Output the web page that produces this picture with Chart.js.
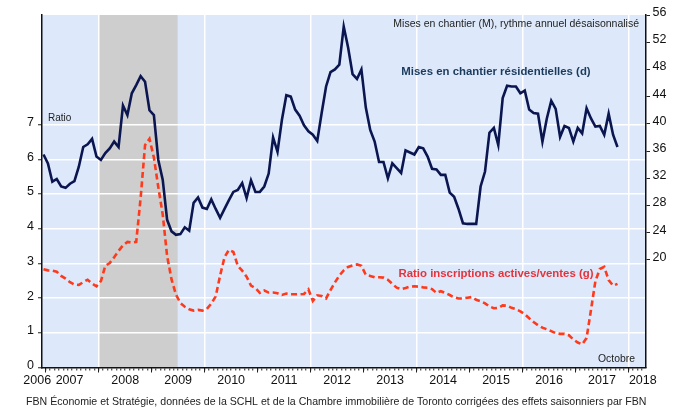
<!DOCTYPE html>
<html>
<head>
<meta charset="utf-8">
<script src="https://cdn.jsdelivr.net/npm/chart.js@4.4.1/dist/chart.umd.min.js"></script>
<style>
  body { margin: 0; background: #fff; }
  canvas { display: block; }
</style>
</head>
<body>
<canvas id="chart" width="678" height="408"></canvas>
<script>
// Monthly series, Dec 2006 to Oct 2017
const firstMonth = 2006 + 11 / 12; // December 2006

// Mises en chantier (right axis)
const starts = [
  35.5, 34.2, 31.5, 31.9, 30.8, 30.6, 31.2, 31.6, 33.7, 36.6, 37.0, 37.8,
  35.2, 34.7, 35.7, 36.4, 37.4, 36.6, 42.7, 41.3, 44.5, 45.7, 47.0, 46.2,
  42.0, 41.3, 34.7, 31.8, 25.9, 24.2, 23.7, 23.8, 24.8, 24.3, 28.4, 29.2,
  27.7, 27.5, 28.9, 27.5, 26.2, 27.5, 28.8, 30.0, 30.3, 31.3, 29.1, 31.7,
  30.0, 30.0, 30.8, 32.7, 38.0, 35.9, 40.6, 44.2, 44.0, 42.1, 41.2, 39.8,
  38.9, 38.4, 37.5, 41.6, 45.5, 47.6, 48.0, 48.7, 54.3, 51.2, 47.3, 46.6,
  48.0, 42.4, 39.1, 37.4, 34.4, 34.4, 32.0, 34.2, 33.5, 32.8, 36.1, 35.8,
  35.5, 36.6, 36.4, 35.2, 33.4, 33.3, 32.5, 32.5, 29.9, 29.3, 27.5, 25.4,
  25.3, 25.3, 25.3, 30.8, 33.0, 38.7, 39.4, 36.9, 43.8, 45.6, 45.5, 45.5,
  44.5, 44.9, 42.1, 41.6, 41.5, 37.4, 40.8, 43.4, 42.2, 38.1, 39.7, 39.4,
  37.4, 39.4, 38.6, 42.3, 40.8, 39.6, 39.7, 38.4, 41.5, 38.4, 36.6
];

// Ratio inscriptions actives / ventes (left axis)
const ratio = [
  2.83, 2.80, 2.79, 2.76, 2.64, 2.56, 2.46, 2.39, 2.38, 2.46, 2.53, 2.42,
  2.34, 2.49, 2.93, 3.01, 3.18, 3.36, 3.52, 3.62, 3.60, 3.62, 4.89, 6.41,
  6.59, 6.05, 5.20, 4.41, 3.21, 2.54, 2.10, 1.86, 1.75, 1.68, 1.64, 1.66,
  1.64, 1.69, 1.84, 2.05, 2.65, 3.18, 3.39, 3.33, 2.93, 2.79, 2.62, 2.36,
  2.29, 2.15, 2.22, 2.16, 2.16, 2.14, 2.09, 2.13, 2.11, 2.11, 2.11, 2.12,
  2.25, 1.92, 2.08, 2.06, 1.99, 2.23, 2.45, 2.65, 2.80, 2.90, 2.94, 2.97,
  2.93, 2.67, 2.64, 2.60, 2.60, 2.59, 2.53, 2.41, 2.30, 2.26, 2.29, 2.33,
  2.34, 2.33, 2.31, 2.30, 2.26, 2.15, 2.20, 2.15, 2.09, 2.02, 1.99, 1.99,
  2.01, 2.03, 1.95, 1.91, 1.85, 1.76, 1.71, 1.72, 1.79, 1.78, 1.72, 1.68,
  1.62, 1.54, 1.42, 1.31, 1.22, 1.15, 1.10, 1.05, 0.99, 0.97, 0.97, 0.93,
  0.81, 0.72, 0.67, 0.85, 1.66, 2.49, 2.84, 2.90, 2.52, 2.36, 2.41
];

const years = ['2006', '2007', '2008', '2009', '2010', '2011', '2012',
               '2013', '2014', '2015', '2016', '2017', '2018'];
const leftTicks = [0, 1, 2, 3, 4, 5, 6, 7];
const rightTicks = [20, 24, 28, 32, 36, 40, 44, 48, 52, 56];

// recession (grey band)
const recessionStart = 2008.0;
const recessionEnd = 2009.49;

const FONT = '"Liberation Sans", Arial, sans-serif';
const X_MIN = 2006.93, X_MAX = 2018.33;

// points sit in the middle of their month
const toPoints = arr => arr.map((v, i) => ({ x: firstMonth + i / 12 + 1 / 24, y: v }));

const isYear = v => Math.abs(v - Math.round(v)) < 1e-6;

// where each year label goes (edges pulled in)
function yearLabelPos(i) {
  if (i === 0) return 2006.84;
  if (i === 1) return 2007.45;
  if (i === years.length - 1) return 2018.27;
  return 2006 + i + 0.5;
}

const background = {
  id: 'background',
  beforeDraw(chart) {
    const { ctx, chartArea: a, scales } = chart;
    ctx.save();
    ctx.fillStyle = '#dde9fb';
    ctx.fillRect(a.left, a.top, a.right - a.left, a.bottom - a.top);
    const x1 = scales.x.getPixelForValue(recessionStart);
    const x2 = scales.x.getPixelForValue(recessionEnd);
    ctx.fillStyle = '#cecece';
    ctx.fillRect(x1, a.top, x2 - x1, a.bottom - a.top);
    ctx.restore();
  }
};

const texts = {
  id: 'texts',
  afterDraw(chart) {
    const ctx = chart.ctx;
    ctx.save();
    ctx.textBaseline = 'middle';

    ctx.fillStyle = '#222';
    ctx.font = '10px ' + FONT;
    ctx.textAlign = 'left';
    ctx.fillText('Ratio', 48, 118.5);

    ctx.textAlign = 'right';
    ctx.font = '10.5px ' + FONT;
    ctx.fillText('Mises en chantier (M), rythme annuel désaisonnalisé', 639, 24);
    ctx.font = '10.4px ' + FONT;
    ctx.fillText('Octobre', 635, 359.5);

    ctx.textAlign = 'center';
    ctx.font = 'bold 11.4px ' + FONT;
    ctx.fillStyle = '#1b3a5c';
    ctx.fillText('Mises en chantier résidentielles (d)', 496, 72);
    ctx.fillStyle = '#e5333c';
    ctx.fillText('Ratio inscriptions actives/ventes (g)', 496, 274);

    ctx.textAlign = 'left';
    ctx.fillStyle = '#222';
    ctx.font = '10.6px ' + FONT;
    ctx.fillText('FBN Économie et Stratégie, données de la SCHL et de la Chambre immobilière de Toronto corrigées des effets saisonniers par FBN', 26, 402);
    ctx.restore();
  }
};

new Chart(document.getElementById('chart'), {
  type: 'line',
  data: {
    datasets: [{
      label: 'Mises en chantier résidentielles (d)',
      data: toPoints(starts),
      yAxisID: 'y2',
      borderColor: '#0b1650',
      borderWidth: 2.6,
      pointRadius: 0,
      tension: 0
    }, {
      label: 'Ratio inscriptions actives/ventes (g)',
      data: toPoints(ratio),
      yAxisID: 'y',
      borderColor: '#ff3a1c',
      borderWidth: 2.6,
      borderDash: [6, 3.5],
      pointRadius: 0,
      tension: 0
    }]
  },
  options: {
    responsive: false,
    animation: false,
    devicePixelRatio: 1,
    layout: { padding: { top: 15, left: 0, right: 0, bottom: 0 } },
    plugins: { legend: { display: false }, tooltip: { enabled: false } },
    scales: {
      x: {
        type: 'linear',
        position: 'bottom',
        min: X_MIN,
        max: X_MAX,
        afterBuildTicks: s => {
          const t = [];
          for (let m = 0; m <= 135; m++) t.push({ value: 2007 + m / 12 });
          s.ticks = t;
        },
        afterFit: s => { s.height = 0; },
        ticks: { display: false },
        grid: {
          color: c => (isYear(c.tick.value) && Math.round(c.tick.value) % 2 === 0 && c.tick.value > 2007) ? '#ffffff' : 'rgba(0,0,0,0)',
          lineWidth: 1.5,
          tickColor: '#222',
          tickWidth: 1,
          tickLength: 3
        },
        border: { display: true, color: '#111', width: 1.5 }
      },
      xYear: {
        type: 'linear',
        position: 'bottom',
        min: X_MIN,
        max: X_MAX,
        afterBuildTicks: s => {
          const t = [];
          for (let y = 2007; y <= 2018; y++) t.push({ value: y });
          s.ticks = t;
        },
        afterFit: s => { s.height = 0; },
        ticks: { display: false },
        grid: { drawOnChartArea: false, tickColor: '#222', tickWidth: 1, tickLength: 5 },
        border: { display: false }
      },
      xLab: {
        type: 'linear',
        position: 'bottom',
        min: X_MIN,
        max: X_MAX,
        afterBuildTicks: s => {
          s.ticks = years.map((y, i) => ({ value: yearLabelPos(i) }));
        },
        afterFit: s => { s.height = 40.5; },
        ticks: {
          autoSkip: false,
          maxRotation: 0,
          padding: 6,
          color: '#111',
          font: { family: FONT, size: 12.5 },
          callback: (v, i) => years[i]
        },
        grid: { display: false, drawTicks: false },
        border: { display: false }
      },
      y: {
        position: 'left',
        min: 0,
        max: 10.16,
        afterBuildTicks: s => { s.ticks = leftTicks.map(v => ({ value: v })); },
        afterFit: s => { s.width = 42; },
        ticks: {
          padding: 4,
          labelOffset: -2,
          color: '#111',
          font: { family: FONT, size: 12.5 },
          callback: v => String(v)
        },
        grid: {
          color: c => c.tick.value === 0 ? 'rgba(0,0,0,0)' : '#ffffff',
          lineWidth: 1.5,
          tickColor: '#222',
          tickWidth: 1,
          tickLength: 4
        },
        border: { display: true, color: '#111', width: 1.5 }
      },
      y2: {
        position: 'right',
        min: 4.2,
        max: 56,
        afterBuildTicks: s => { s.ticks = rightTicks.map(v => ({ value: v })); },
        afterFit: s => { s.width = 32; },
        ticks: {
          padding: 2.5,
          labelOffset: -2.5,
          color: '#111',
          font: { family: FONT, size: 12.5 },
          callback: v => String(v)
        },
        grid: { drawOnChartArea: false, tickColor: '#222', tickWidth: 1, tickLength: 4 },
        border: { display: true, color: '#111', width: 1.5 }
      }
    }
  },
  plugins: [background, texts]
});
</script>
</body>
</html>
